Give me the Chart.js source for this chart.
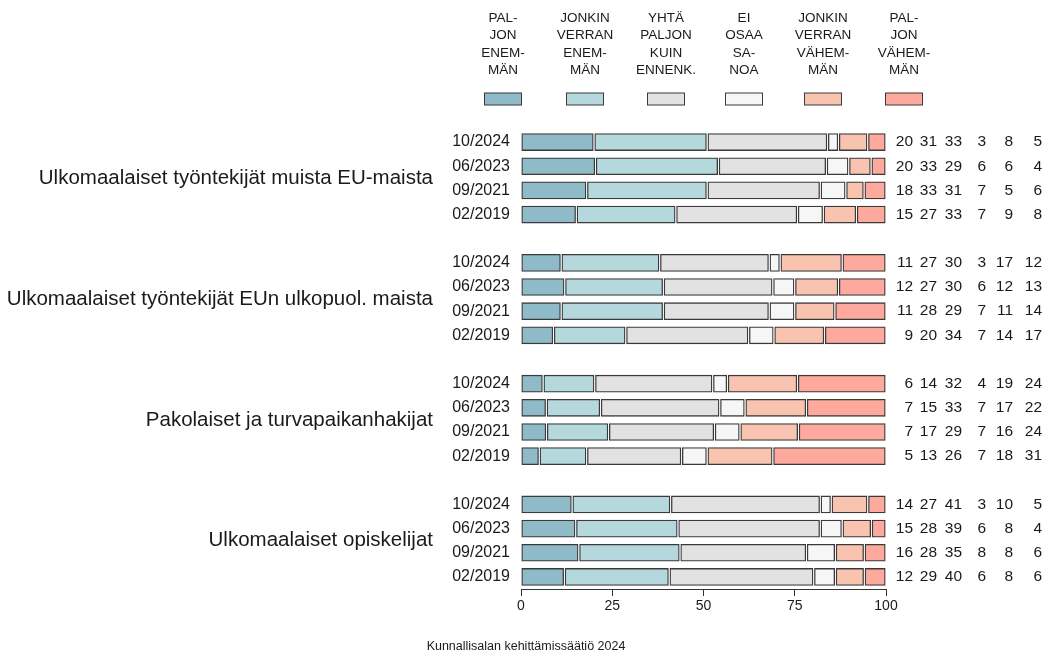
<!DOCTYPE html>
<html>
<head>
<meta charset="utf-8">
<script src="https://cdn.jsdelivr.net/npm/chart.js@4"></script>
<style>
    html, body { margin: 0; padding: 0; background: #fff; }
    #wrap { position: relative; width: 1050px; height: 656px; }
</style>
</head>
<body>
<div id="wrap"><canvas id="myChart"></canvas></div>
<script>
// data
const periods = ['10/2024', '06/2023', '09/2021', '02/2019'];
const groupNames = [
    'Ulkomaalaiset työntekijät muista EU-maista',
    'Ulkomaalaiset työntekijät EUn ulkopuol. maista',
    'Pakolaiset ja turvapaikanhakijat',
    'Ulkomaalaiset opiskelijat'
];
const answerLabels = [
    ['PAL-', 'JON', 'ENEM-', 'MÄN'],
    ['JONKIN', 'VERRAN', 'ENEM-', 'MÄN'],
    ['YHTÄ', 'PALJON', 'KUIN', 'ENNENK.'],
    ['EI', 'OSAA', 'SA-', 'NOA'],
    ['JONKIN', 'VERRAN', 'VÄHEM-', 'MÄN'],
    ['PAL-', 'JON', 'VÄHEM-', 'MÄN']
];
const answerColors = ['#8fbbc8', '#b4d8db', '#e2e2e2', '#f6f6f6', '#f8c4b0', '#fda99d'];

const euWorkers = [[20, 31, 33, 3, 8, 5], [20, 33, 29, 6, 6, 4], [18, 33, 31, 7, 5, 6], [15, 27, 33, 7, 9, 8]];
const nonEuWorkers = [[11, 27, 30, 3, 17, 12], [12, 27, 30, 6, 12, 13], [11, 28, 29, 7, 11, 14], [9, 20, 34, 7, 14, 17]];
const refugees = [[6, 14, 32, 4, 19, 24], [7, 15, 33, 7, 17, 22], [7, 17, 29, 7, 16, 24], [5, 13, 26, 7, 18, 31]];
const students = [[14, 27, 41, 3, 10, 5], [15, 28, 39, 6, 8, 4], [16, 28, 35, 8, 8, 6], [12, 29, 40, 6, 8, 6]];

const xTicks = [0, 25, 50, 75, 100];
const source = 'Kunnallisalan kehittämissäätiö 2024';

const groups = [euWorkers, nonEuWorkers, refugees, students];

// rows: 4 periods per group, an empty slot between groups
const yLabels = [];
const rows = [];
groups.forEach((g, gi) => {
    if (gi > 0) {
        yLabels.push('');
        rows.push(null);
    }
    g.forEach((vals, pi) => {
        yLabels.push(periods[pi]);
        rows.push(vals);
    });
});

const GAP = 0.2;
const datasets = answerLabels.map((lab, k) => ({
    label: lab.join(' '),
    data: rows.map(vals => {
        if (!vals) return null;
        const total = vals.reduce((a, b) => a + b, 0);
        let start = 0;
        for (let i = 0; i < k; i++) start += vals[i];
        start = start / total * 100;
        const end = start + vals[k] / total * 100;
        return [start + GAP, end - GAP];
    }),
    backgroundColor: answerColors[k],
    borderColor: '#3a3a3a',
    borderWidth: 1.3,
    borderSkipped: false,
    barThickness: 17,
    grouped: false
}));

const FONT = '"Liberation Sans", Arial, sans-serif';

const textPlugin = {
    id: 'texts',
    afterDraw(chart) {
        const ctx = chart.ctx;
        const y = chart.scales.y;
        ctx.save();
        ctx.fillStyle = '#1a1a1a';

        // legend
        const legendX = [503, 585, 666, 744, 823, 904];
        ctx.font = '13.5px ' + FONT;
        ctx.textAlign = 'center';
        ctx.textBaseline = 'middle';
        answerLabels.forEach((lines, k) => {
            lines.forEach((t, li) => {
                ctx.fillText(t, legendX[k], 18 + li * 17.5);
            });
            ctx.fillStyle = answerColors[k];
            ctx.fillRect(legendX[k] - 18.5, 93, 37, 12);
            ctx.strokeStyle = '#3a3a3a';
            ctx.lineWidth = 1;
            ctx.strokeRect(legendX[k] - 18.5, 93, 37, 12);
            ctx.fillStyle = '#1a1a1a';
        });

        // group labels
        ctx.font = '20.5px ' + FONT;
        ctx.textAlign = 'right';
        groups.forEach((g, gi) => {
            const first = gi * 5;
            const mid = (y.getPixelForValue(first) + y.getPixelForValue(first + 3)) / 2;
            ctx.fillText(groupNames[gi], 433, mid);
        });

        // numbers on the right
        const colX = [913, 937, 962, 986, 1013, 1042];
        ctx.font = '15.5px ' + FONT;
        rows.forEach((vals, i) => {
            if (!vals) return;
            const py = y.getPixelForValue(i);
            vals.forEach((v, k) => ctx.fillText(String(v), colX[k], py));
        });

        // source
        ctx.font = '12.5px ' + FONT;
        ctx.textAlign = 'center';
        ctx.fillText(source, 526, 647);
        ctx.restore();
    }
};

const config = {
    type: 'bar',
    data: {
        labels: yLabels,
        datasets: datasets
    },
    options: {
        indexAxis: 'y',
        responsive: true,
        maintainAspectRatio: false,
        animation: false,
        layout: {
            padding: { top: 130, right: 164, bottom: 31, left: 0 }
        },
        plugins: {
            legend: { display: false },
            tooltip: { enabled: false }
        },
        scales: {
            x: {
                type: 'linear',
                min: 0,
                max: 100,
                afterBuildTicks: scale => {
                    scale.ticks = xTicks.map(v => ({ value: v }));
                },
                grid: {
                    drawOnChartArea: false,
                    drawTicks: true,
                    tickLength: 7,
                    color: '#333'
                },
                border: { display: true, color: '#333', width: 1 },
                ticks: {
                    color: '#1a1a1a',
                    padding: 2,
                    font: { family: FONT, size: 14 }
                },
                afterFit: scale => { scale.height = 36; }
            },
            y: {
                type: 'category',
                offset: true,
                grid: { display: false },
                border: { display: false },
                ticks: {
                    color: '#1a1a1a',
                    padding: 3,
                    autoSkip: false,
                    font: { family: FONT, size: 16 }
                },
                afterFit: scale => { scale.width = 521; }
            }
        }
    },
    plugins: [textPlugin]
};

const ctx = document.getElementById('myChart').getContext('2d');
if (ctx) {
    new Chart(ctx, config);
}
</script>
</body>
</html>
